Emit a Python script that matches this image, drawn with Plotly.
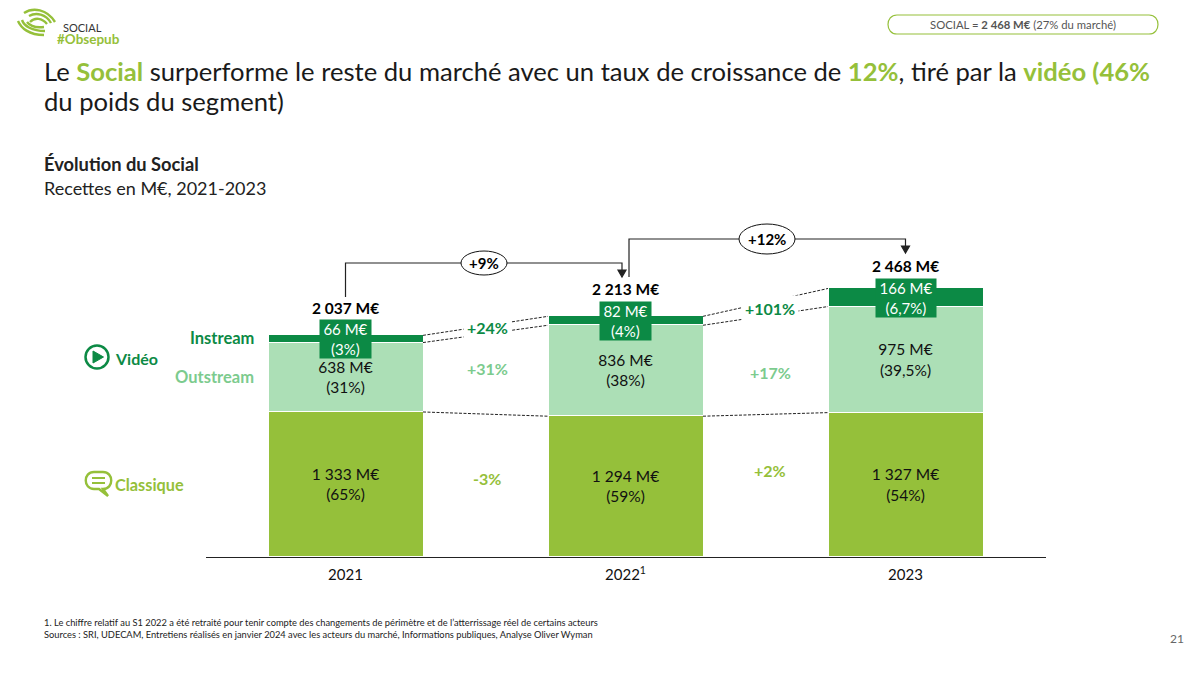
import plotly.graph_objects as go

# ---------- data ----------
years = [0, 1, 2]
year_labels = ["2021", "2022<sup>1</sup>", "2023"]
classique = [1333, 1294, 1327]
outstream = [638, 836, 975]
instream = [66, 82, 166]
classique_txt = ["1 333 M€<br>(65%)", "1 294 M€<br>(59%)", "1 327 M€<br>(54%)"]
outstream_txt = ["638 M€<br>(31%)", "836 M€<br>(38%)", "975 M€<br>(39,5%)"]
instream_txt = ["66 M€<br>(3%)", "82 M€<br>(4%)", "166 M€<br>(6,7%)"]
total_txt = ["2 037 M€", "2 213 M€", "2 468 M€"]
instream_growth = ["+24%", "+101%"]
outstream_growth = ["+31%", "+17%"]
classique_growth = ["-3%", "+2%"]
total_growth = ["+9%", "+12%"]

# ---------- palette ----------
OLIVE = "#95C03A"
LIGHT = "#ACDFB6"
DARK = "#0C8A45"
MID = "#7CCB8E"
INK = "#111111"
FONT = "Lato"

W, H = 1200, 675
BASE_PX, SCALE = 557.0, 0.1088          # baseline pixel, pixels per M€
TOP_PX = 200.0
BAR = 155 / 280
totals = [a + b + c for a, b, c in zip(classique, outstream, instream)]


def px(x):
    return x / W


def py(y):
    return 1 - y / H


fig = go.Figure()
for name, vals, col, txt in [
    ("Classique", classique, OLIVE, classique_txt),
    ("Outstream", outstream, LIGHT, outstream_txt),
    ("Instream", instream, DARK, None),
]:
    fig.add_bar(
        x=years, y=vals, name=name, width=BAR,
        marker=dict(color=col, line=dict(color="white", width=1)),
        text=txt, textposition="inside" if txt else "none", insidetextanchor="middle",
        textangle=0, constraintext="none",
        textfont=dict(family=FONT, size=15.5, color=INK),
        showlegend=False, hoverinfo="skip",
    )

shapes, ann = [], []


def text(x, y, s, size, color=INK, anchor="center", **kw):
    # annotation boxes have a small inner pad, so left/right anchored text is nudged
    nudge = {"left": -2, "right": 2, "center": 0}[anchor]
    ann.append(dict(xref="paper", yref="paper", x=px(x + nudge), y=py(y), text=s,
                    showarrow=False, xanchor=anchor, yanchor="middle",
                    font=dict(family=FONT, size=size, color=color), **kw))


def path(points, color=INK, width=1.2, fill=None, close=False):
    d = "M " + " L ".join(f"{px(a):.5f},{py(b):.5f}" for a, b in points)
    d += " Z" if close else ""
    shapes.append(dict(type="path", xref="paper", yref="paper", path=d,
                       line=dict(color=color, width=width),
                       fillcolor=fill, layer="above"))


def curve(d, color, width=2.2, fill=None):
    out = []
    for tok in d.split():
        if "," in tok:
            a, b = tok.split(",")
            out.append(f"{px(float(a)):.5f},{py(float(b)):.5f}")
        else:
            out.append(tok)
    shapes.append(dict(type="path", xref="paper", yref="paper", path=" ".join(out),
                       line=dict(color=color, width=width), fillcolor=fill,
                       layer="above"))


def oval(cx, cy, rx, ry, color=INK, width=1, fill="white"):
    shapes.append(dict(type="circle", xref="paper", yref="paper",
                       x0=px(cx - rx), x1=px(cx + rx), y0=py(cy + ry), y1=py(cy - ry),
                       line=dict(color=color, width=width), fillcolor=fill, layer="above"))


# instream boxes and total labels, tied to the bars
for i in years:
    ann.append(dict(x=i, y=classique[i] + outstream[i] + instream[i] / 2, text=instream_txt[i],
                    showarrow=False, bgcolor=DARK, width=58 if i == 2 else 49, height=36,
                    xanchor="center", yanchor="middle", align="center",
                    font=dict(family=FONT, size=15, color="white")))
    ann.append(dict(x=i, y=totals[i], text=f"<b>{total_txt[i]}</b>", showarrow=False,
                    yanchor="bottom", yshift=[16, 16, 11][i], xanchor="center",
                    font=dict(family=FONT, size=15.5, color="black")))

# dotted links between bars
for i in (0, 1):
    x0, x1 = i + BAR / 2, i + 1 - BAR / 2
    cum0 = [classique[i], classique[i] + outstream[i], totals[i]]
    cum1 = [classique[i + 1], classique[i + 1] + outstream[i + 1], totals[i + 1]]
    for a, b in zip(cum0, cum1):
        shapes.append(dict(type="line", xref="x", yref="y", x0=x0, x1=x1, y0=a, y1=b,
                           line=dict(color="#222222", width=1, dash="3px,1.5px"), layer="above"))

# growth labels between bars (white backing interrupts the dotted links)
for i, xc in enumerate((487, 770)):
    text(xc, (327, 308)[i], f"<b>{instream_growth[i]}</b>", 16, DARK, bgcolor="white", borderpad=3)
    text(xc, (368, 372)[i], f"<b>{outstream_growth[i]}</b>", 16, MID)
    text(xc, (478, 470)[i], f"<b>{classique_growth[i]}</b>", 16, OLIVE)

# total growth connectors
path([(345.5, 297), (345.5, 263), (622, 263), (622, 270)], "#222222")
path([(618, 270), (626, 270), (622, 277)], "#222222", fill="#222222", close=True)
path([(629, 277), (629, 239), (905.5, 239), (905.5, 246)], "#222222")
path([(901.5, 246), (909.5, 246), (905.5, 253)], "#222222", fill="#222222", close=True)
oval(484, 263, 23, 12)
oval(767, 239, 28, 15)
text(484, 263, f"<b>{total_growth[0]}</b>", 15, "black")
text(767, 239, f"<b>{total_growth[1]}</b>", 15, "black")

# title block
text(44, 71, 'Le <b><span style="color:%s">Social</span></b> surperforme le reste du marché avec un taux de croissance de '
     '<b><span style="color:%s">12%%</span></b>, tiré par la <b><span style="color:%s">vidéo (46%%</span></b>' % (OLIVE, OLIVE, OLIVE),
     25.6, "#1a1a1a", "left")
text(44, 101, "du poids du segment)", 25.6, "#1a1a1a", "left")
text(44, 164, "<b>Évolution du Social</b>", 18.3, "#222222", "left")
text(44, 188, "Recettes en M€, 2021-2023", 18, "#222222", "left")

# header
text(63, 27, "SOCIAL", 11, "#333333", "left")
text(57, 39, "<b>#Obsepub</b>", 13.5, OLIVE, "left")
curve("M 897,15 L 1149,15 C 1161,15 1161,34 1149,34 L 897,34 C 885,34 885,15 897,15 Z", OLIVE, 1.2)
text(1023, 25, 'SOCIAL = <b>2 468 M€</b> (27% du marché)', 11.3, "#555555")

# logo swirl
curve("M 24,13 C 33,7 47,9 55,22", OLIVE, 2.4)
curve("M 29,16 C 36,12 46,14 51,23", OLIVE, 2.4)
curve("M 30,22 C 35,17 42,18 47,24", OLIVE, 2.4)
curve("M 18,21 C 21,28 29,35 44,35", OLIVE, 2.4)
curve("M 22,20 C 24,26 32,31 45,31", OLIVE, 2.4)
curve("M 27,22 C 30,26 36,28 44,27", OLIVE, 2.4)

# left legend
text(254, 338, "<b>Instream</b>", 16.5, DARK, "right")
text(254, 377, "<b>Outstream</b>", 16.5, MID, "right")
text(115, 358, "<b>Vidéo</b>", 16, DARK, "left")
text(115, 484, "<b>Classique</b>", 16.3, OLIVE, "left")
oval(97, 357, 11.5, 11.5, DARK, 2.5, "white")
path([(93, 351), (93, 363), (103.5, 357)], DARK, 1, DARK, close=True)
curve("M 94,472 L 103,472 C 114,472 114,489 103,489 L 108,496 L 99,489 L 94,489 C 83,489 83,472 94,472 Z", OLIVE, 2.4, "white")
curve("M 92,478 L 105,478 M 92,483 L 105,483", OLIVE, 2.2)

# footer
text(44, 622, "1. Le chiffre relatif au S1 2022 a été retraité pour tenir compte des changements de périmètre et de l’atterrissage réel de certains acteurs", 9.3, "#222222", "left")
text(44, 634, "Sources : SRI, UDECAM, Entretiens réalisés en janvier 2024 avec les acteurs du marché, Informations publiques, Analyse Oliver Wyman", 9.3, "#222222", "left")
text(1177, 638, "21", 12, "#666666")

fig.update_layout(
    width=W, height=H, autosize=False, barmode="stack", bargap=0,
    margin=dict(l=0, r=0, t=0, b=0), paper_bgcolor="white", plot_bgcolor="white",
    shapes=shapes, annotations=ann,
    xaxis=dict(domain=[205.5 / W, 1045.5 / W], range=[-0.5, 2.5], tickmode="array",
               tickvals=years, ticktext=year_labels, showgrid=False, zeroline=False,
               showline=True, linecolor="#222222", linewidth=1, ticks="",
               ticklabelstandoff=4,
               tickfont=dict(family=FONT, size=15, color=INK)),
    yaxis=dict(domain=[py(BASE_PX), py(TOP_PX)], range=[0, (BASE_PX - TOP_PX) / SCALE],
               visible=False),
)
fig.write_html("out.html", config={"displayModeBar": False},
               post_script="document.body.style.margin='0';")
